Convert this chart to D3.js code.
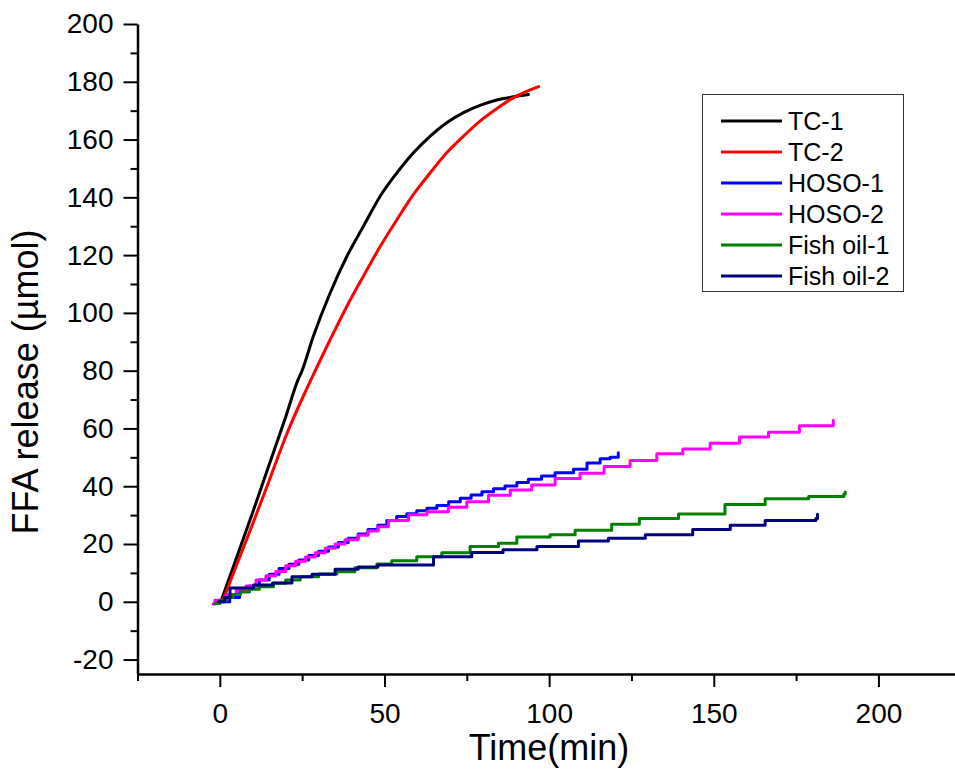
<!DOCTYPE html>
<html>
<head>
<meta charset="utf-8">
<script src="https://cdn.jsdelivr.net/npm/d3@7"></script>
<style>
  body { margin: 0; background: #fff; }
  svg { display: block; font-family: "Liberation Sans", Arial, sans-serif; }
  .axis path, .axis line { stroke: #000; }
  .axis text { fill: #000; }
</style>
</head>
<body>
<div class="content"></div>
<script>
// Series names and colours
var seriesNames = ["TC-1", "TC-2", "HOSO-1", "HOSO-2", "Fish oil-1", "Fish oil-2"];
var seriesColors = ["#000000", "#ff0000", "#0000ff", "#ff00ff", "#008000", "#000080"];

// [time (min), FFA release (umol)]
var tc1 = [[0.3,0],[5,15],[10,31],[15,47.5],[20,64],[23.8,77],[24.8,79.5],
  [28.4,91.9],[33.5,106.9],[38.6,119.6],[43.6,130],[48.7,140.4],[53.8,148.5],[58.8,155.4],
  [63.9,161.2],[68.9,165.8],[74,169.3],[79,171.8],[84.1,173.7],[89.2,174.8],[93.7,175.6]];
var tc2 = [[0.8,0],[5,12.5],[10,27],[15,42],[20.3,58],[26.5,74],[27.9,77.4],
  [33.5,90.7],[38.6,102.3],[43.6,112.7],[48.7,123],[53.8,132.3],[58.8,141],[63.9,148.5],
  [68.9,155.4],[74,161.2],[79,166.4],[84.1,170.7],[89.2,174.5],[96.8,178.3]];
var hoso1 = [[0,0],[3,1.5],[6,3.5],[9,5.5],[12,7.5],[15,9.5],[18,11.5],[21,13],[24,14.5],[27,16],
  [30,17.5],[33,19],[36,20.5],[39,22],[42,23.5],[45,25],[48,26.5],[50.7,28.1],[53.7,29.5],
  [56.8,30.5],[59.8,31.5],[62.9,32.4],[65.9,33.3],[69.5,34.6],[73,35.8],[76.3,37],[79.6,38.1],
  [83.1,39.1],[86.6,40.1],[90.2,41.3],[93.7,42.4],[97.7,43.5],[101.8,44.7],[107.4,45.9],
  [111.5,48],[115.5,49.5],[118.5,50],[121,51.6]];
var hoso2 = [[-2,-0.8],[-1.5,0.5],[2,2.5],[5,4],[8,5.5],[11,7.5],[14,9],[17,10.5],[20,12.5],
  [23,14],[26,15.5],[29,17],[32,18.5],[35,20],[38,21.5],[42,23],[45,24.5],[48,26],[51.2,28.1],
  [57.3,30.1],[62.9,31.2],[69.4,32.7],[75,34.6],[81.6,36.9],[88.2,38.7],[94.7,40.4],
  [101.8,42.7],[109.4,44.5],[116.7,46.8],[124.6,48.9],[132.7,51.2],[140.6,52.9],[148.9,54.9],
  [157.8,57],[166.6,58.7],[176,60.9],[186.3,61.5],[186.3,62.8]];
var fish1 = [[-1.5,-0.6],[0,0.5],[2,1.5],[4,2.5],[6.2,3.5],[9,4.3],[12,5.2],[16.3,6.4],[20,7.5],
  [24.4,8.7],[30,9.6],[35.5,10.4],[41,11.8],[47.7,13.1],[52.2,14.2],[59.8,15.6],[67.4,17],
  [76,19.1],[84.6,20.3],[90.2,22.4],[100.3,23.2],[107.9,24.8],[119,26.8],[127.4,28.8],
  [139.3,30.4],[153.4,33.7],[165.6,35.7],[178.8,36.4],[189.5,37.2],[189.9,38]];
var fish2 = [[-0.5,0],[1.5,1.5],[3.1,4.8],[10.2,5.8],[16,6.5],[21.9,8.7],[28,9.5],[35,11.3],
  [42,12],[48,12.7],[64.9,15.6],[76.5,17.1],[86,18],[96.3,19.1],[108.9,21],[118,22],
  [129.2,23.2],[143.6,25],[155,26.5],[165.6,28.1],[181,28.8],[181.5,30.3]];

var seriesData = [tc1, tc2, hoso1, hoso2, fish1, fish2];
var smoothSeries = [true, true, false, false, false, false];

// Axis ticks
var xTicks = [0, 50, 100, 150, 200];
var xMinor = [-25, 25, 75, 125, 175, 225];
var yTicks = [-20, 0, 20, 40, 60, 80, 100, 120, 140, 160, 180, 200];
var yMinor = [-10, 10, 30, 50, 70, 90, 110, 130, 150, 170, 190];

var svgWidth = 955;
var svgHeight = 781;

var margin = { top: 24, right: 0, bottom: 107, left: 137.5 };
var xLeft = margin.left;
var xRight = xLeft + 250 * 3.293;
var yTop = margin.top;
var yBottom = svgHeight - margin.bottom;

var svg = d3.select(".content")
  .append("svg")
  .attr("width", svgWidth)
  .attr("height", svgHeight);

var xScale = d3.scaleLinear().domain([-25, 225]).range([xLeft, xRight]);
var yScale = d3.scaleLinear().domain([-25, 200]).range([yBottom, yTop]);

// plain hyphen for negatives, like the original
var plainFormat = d => String(d);

// minor ticks
svg.append("g")
  .attr("class", "axis")
  .attr("transform", `translate(0, ${yBottom})`)
  .call(d3.axisBottom(xScale).tickValues(xMinor).tickSize(7).tickSizeOuter(0).tickFormat(""))
  .call(g => g.select(".domain").remove())
  .selectAll("line").attr("stroke-width", 2);

svg.append("g")
  .attr("class", "axis")
  .attr("transform", `translate(${xLeft}, 0)`)
  .call(d3.axisLeft(yScale).tickValues(yMinor).tickSize(7).tickSizeOuter(0).tickFormat(""))
  .call(g => g.select(".domain").remove())
  .selectAll("line").attr("stroke-width", 2);

// major x axis
var xAxis = svg.append("g")
  .attr("class", "axis")
  .attr("transform", `translate(0, ${yBottom})`)
  .call(d3.axisBottom(xScale).tickValues(xTicks).tickFormat(plainFormat)
    .tickSize(13).tickSizeOuter(0).tickPadding(16));
xAxis.select(".domain").attr("stroke-width", 2.5);
xAxis.selectAll("line").attr("stroke-width", 2);
xAxis.selectAll("text").attr("font-size", 28).attr("font-family", "Liberation Sans, Arial, sans-serif");

// major y axis
var yAxis = svg.append("g")
  .attr("class", "axis")
  .attr("transform", `translate(${xLeft}, 0)`)
  .call(d3.axisLeft(yScale).tickValues(yTicks).tickFormat(plainFormat)
    .tickSize(14).tickSizeOuter(0).tickPadding(10));
yAxis.select(".domain").attr("stroke-width", 2.5);
yAxis.selectAll("line").attr("stroke-width", 2);
yAxis.selectAll("text").attr("font-size", 28).attr("font-family", "Liberation Sans, Arial, sans-serif");

// axis titles
svg.append("text")
  .attr("transform", "translate(38, 382) rotate(-90)")
  .attr("text-anchor", "middle")
  .attr("font-size", 36)
  .text("FFA release (\u00b5mol)");

svg.append("text")
  .attr("x", 549)
  .attr("y", 760)
  .attr("text-anchor", "middle")
  .attr("font-size", 36)
  .text("Time(min)");

// lines
var smoothLine = d3.line()
  .x(d => xScale(d[0]))
  .y(d => yScale(d[1]))
  .curve(d3.curveMonotoneX);

var stepLine = d3.line()
  .x(d => xScale(d[0]))
  .y(d => yScale(d[1]))
  .curve(d3.curveStepAfter);

seriesData.forEach(function(data, i) {
  svg.append("path")
    .datum(data)
    .attr("fill", "none")
    .attr("stroke", seriesColors[i])
    .attr("stroke-width", 3)
    .attr("stroke-linejoin", "round")
    .attr("stroke-linecap", "round")
    .attr("d", smoothSeries[i] ? smoothLine : stepLine);
});

// legend
var legend = svg.append("g");
legend.append("rect")
  .attr("x", 702.5)
  .attr("y", 94.5)
  .attr("width", 201)
  .attr("height", 197)
  .attr("fill", "#fff")
  .attr("stroke", "#333")
  .attr("stroke-width", 1);

seriesNames.forEach(function(name, i) {
  var y = 121 + i * 31;
  legend.append("line")
    .attr("x1", 721)
    .attr("x2", 782)
    .attr("y1", y)
    .attr("y2", y)
    .attr("stroke", seriesColors[i])
    .attr("stroke-width", 3);
  legend.append("text")
    .attr("x", 788)
    .attr("y", y)
    .attr("dy", "0.35em")
    .attr("font-size", 25)
    .text(name);
});
</script>
</body>
</html>
